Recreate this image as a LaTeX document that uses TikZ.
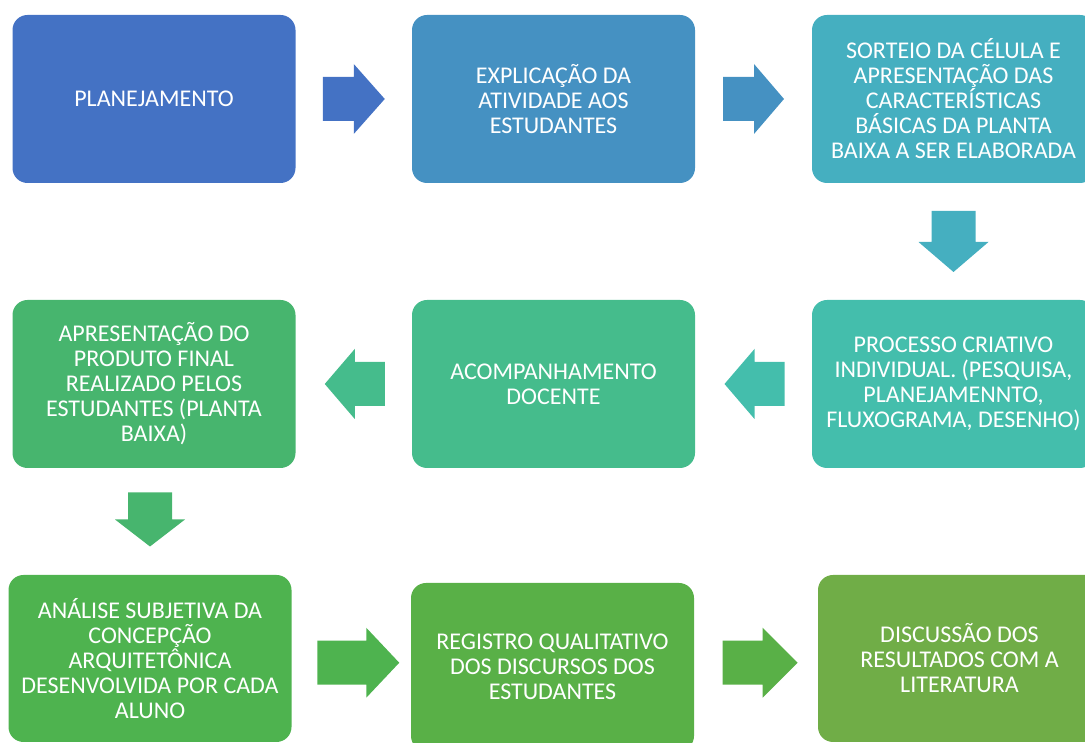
\documentclass[tikz,border=0pt]{standalone}
\usepackage{fontspec}
\setmainfont{Carlito}
\usetikzlibrary{calc}

\definecolor{cPlan}{HTML}{4472C4}
\definecolor{cExpl}{HTML}{4591C2}
\definecolor{cSort}{HTML}{45AFC0}
\definecolor{cProc}{HTML}{44BEAC}
\definecolor{cAcom}{HTML}{45BC8C}
\definecolor{cApre}{HTML}{47B56E}
\definecolor{cAnal}{HTML}{4EB34F}
\definecolor{cRegi}{HTML}{59B047}
\definecolor{cDisc}{HTML}{70AD47}

\tikzset{
  pics/blockarrow/.style n args={3}{code={
    \fill[#3, sharp corners] (-#1/2,-22) -- (#1/2-#2,-22) -- (#1/2-#2,-35) -- (#1/2,0)
      -- (#1/2-#2,35) -- (#1/2-#2,22) -- (-#1/2,22) -- cycle;
  }}
}

\begin{document}
\begin{tikzpicture}[x=1pt, y=1pt,
  every node/.style = {shape=rectangle, rounded corners=15pt, align=center,
    minimum width=283pt, minimum height=168pt, inner sep=0pt, text=white,
    font=\fontsize{24}{25}\selectfont}]
  \useasboundingbox (0,0) rectangle (1085,743);
  \clip (0,0) rectangle (1085,743);

  % first row
  \node[fill=cPlan] (plan) at (154,644) {PLANEJAMENTO};
  \node[fill=cExpl] (expl) at (553.5,644) {EXPLICAÇÃO DA\\ ATIVIDADE AOS\\ ESTUDANTES};
  \node[fill=cSort] (sort) at (953.5,644) {SORTEIO DA CÉLULA E\\ APRESENTAÇÃO DAS\\
    CARACTERÍSTICAS\\ BÁSICAS DA PLANTA\\ BAIXA A SER ELABORADA};

  % second row
  \node[fill=cProc] (proc) at (953.5,359) {PROCESSO CRIATIVO\\ INDIVIDUAL. (PESQUISA,\\
    PLANEJAMENNTO,\\ FLUXOGRAMA, DESENHO)};
  \node[fill=cAcom] (acom) at (553.5,359) {ACOMPANHAMENTO\\ DOCENTE};
  \node[fill=cApre] (apre) at (154,359) {APRESENTAÇÃO DO\\ PRODUTO FINAL\\
    REALIZADO PELOS\\ ESTUDANTES (PLANTA\\ BAIXA)};

  % third row
  \node[fill=cAnal, minimum height=167pt] (anal) at (150,84.5) {ANÁLISE SUBJETIVA DA\\ CONCEPÇÃO\\
    ARQUITETÔNICA\\ DESENVOLVIDA POR CADA\\ ALUNO};
  \node[fill=cRegi] (regi) at (552.5,76) {REGISTRO QUALITATIVO\\ DOS DISCURSOS DOS\\ ESTUDANTES};
  \node[fill=cDisc, minimum height=167pt] (disc) at (959.5,84.5) {DISCUSSÃO DOS\\
    RESULTADOS COM A\\ LITERATURA};

  % block arrows
  \pic at ($(plan.east)!0.5!(expl.west)$) {blockarrow={62}{31}{cPlan}};
  \pic at ($(expl.east)!0.5!(sort.west)$) {blockarrow={61}{30}{cExpl}};
  \pic[rotate=-90] at ($(sort.south)!0.5!(proc.north)$) {blockarrow={61}{30}{cSort}};
  \pic[rotate=180] at ($(proc.west)!0.5!(acom.east)+(1,0)$) {blockarrow={60}{30}{cProc}};
  \pic[rotate=180] at ($(acom.west)!0.5!(apre.east)+(1,0)$) {blockarrow={60}{30}{cAcom}};
  \pic[rotate=-90] at ($(apre.south)!0.5!(anal.north)+(-2,2)$) {blockarrow={54}{27}{cApre}};
  \pic at ($(anal.east)!0.5!(regi.west)+(7,0)$) {blockarrow={82}{33}{cAnal}};
  \pic at ($(regi.east)!0.5!(disc.west)+(4,0)$) {blockarrow={75}{35}{cRegi}};
\end{tikzpicture}
\end{document}
